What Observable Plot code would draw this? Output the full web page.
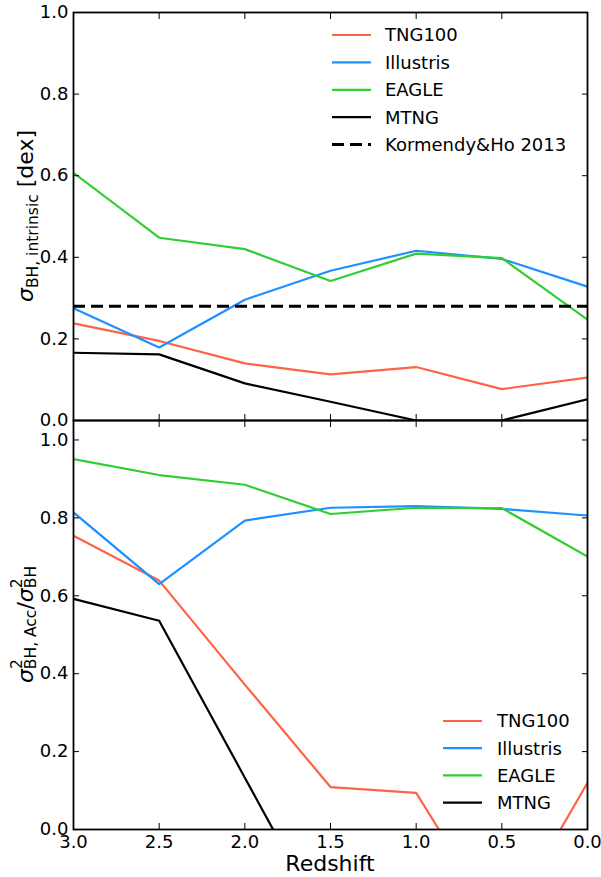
<!DOCTYPE html>
<html><head><meta charset="utf-8">
<script src="https://cdn.jsdelivr.net/npm/d3@7"></script>
<script src="https://cdn.jsdelivr.net/npm/@observablehq/plot@0.6"></script>
<style>
body{margin:0;background:#fff}
#fig{position:relative;width:601px;height:877px;font-family:"DejaVu Sans"}
#fig svg{position:absolute;left:0}
</style>
</head><body><div id="fig"></div>
<script>
// ---- data ----
const redshift = [3.0, 2.5, 2.0, 1.5, 1.0, 0.5, 0.0];
const sims = ["TNG100", "Illustris", "EAGLE", "MTNG"];
const simColors = ["#ff6347", "#1e90ff", "#32cd32", "#000000"];
// top panel: sigma_BH,intrinsic [dex]
const sigmaTNG100    = [0.238, 0.195, 0.140, 0.113, 0.131, 0.077, 0.105];
const sigmaIllustris = [0.275, 0.179, 0.296, 0.367, 0.416, 0.396, 0.328];
const sigmaEAGLE     = [0.607, 0.448, 0.420, 0.342, 0.409, 0.398, 0.247];
const sigmaMTNG      = [0.166, 0.162, 0.091, 0.046, 0.0, 0.0, 0.052];
const kormendyHo2013 = 0.28;
// bottom panel: sigma^2_BH,Acc / sigma^2_BH
const ratioTNG100    = [0.754, 0.639, 0.372, 0.109, 0.094, -0.26, 0.120];
const ratioIllustris = [0.814, 0.630, 0.793, 0.826, 0.830, 0.823, 0.806];
const ratioEAGLE     = [0.951, 0.910, 0.885, 0.810, 0.826, 0.825, 0.701];
const ratioMTNG      = [0.592, 0.536, 0.133, -0.27, null, null, null];
// ticks
const xTicks = [3.0, 2.5, 2.0, 1.5, 1.0, 0.5, 0.0];
const yTicksTop = [0.0, 0.2, 0.4, 0.6, 0.8, 1.0];
const yTicksBottom = [0.0, 0.2, 0.4, 0.6, 0.8, 1.0];

function rows(series) {
  const out = [];
  series.forEach((vals, i) => vals.forEach((v, j) => out.push({sim: sims[i], z: redshift[j], v})));
  return out;
}
const topRows = rows([sigmaTNG100, sigmaIllustris, sigmaEAGLE, sigmaMTNG]);
const botRows = rows([ratioTNG100, ratioIllustris, ratioEAGLE, ratioMTNG]);

const W = 601, ML = 73, MR = 14;
const plotStyle = {fontFamily: "DejaVu Sans", fontSize: "18px", overflow: "visible", background: "transparent", color: "black"};
const colorScale = {domain: sims, range: simColors};

function frameAxes(yTicks, bottomLabels) {
  return [
    Plot.frame({stroke: "black", strokeWidth: 1.8}),
    Plot.axisY(yTicks, {anchor: "left", tickSize: -6, fill: "none", strokeWidth: 1}),
    Plot.axisY(yTicks, {anchor: "left", tickSize: 0, tickPadding: 5, tickFormat: ".1f", label: null, fontSize: 18}),
    Plot.axisY(yTicks, {anchor: "right", tickSize: -6, fill: "none", strokeWidth: 1}),
    Plot.axisX(xTicks, {anchor: "top", tickSize: -6, fill: "none", strokeWidth: 1}),
    Plot.axisX(xTicks, {anchor: "bottom", tickSize: -6, fill: "none", strokeWidth: 1}),
    bottomLabels ? Plot.axisX(xTicks, {anchor: "bottom", tickSize: 0, tickPadding: 6, tickFormat: ".1f", label: null, fontSize: 18}) : null
  ];
}

const topPlot = Plot.plot({
  width: W, height: 420, marginTop: 12, marginBottom: 0, marginLeft: ML, marginRight: MR,
  style: plotStyle,
  x: {domain: [3, 0], label: null, axis: null},
  y: {domain: [0, 1], label: null, axis: null},
  color: colorScale,
  marks: [
    Plot.line(topRows, {x: "z", y: "v", z: "sim", stroke: "sim", strokeWidth: 2.2, clip: true}),
    Plot.ruleY([kormendyHo2013], {stroke: "black", strokeWidth: 3, strokeDasharray: "12,6"}),
    ...frameAxes(yTicksTop, false)
  ]
});

const bottomPlot = Plot.plot({
  width: W, height: 457, marginTop: 0, marginBottom: 48, marginLeft: ML, marginRight: MR,
  style: plotStyle,
  x: {domain: [3, 0], label: null, axis: null},
  y: {domain: [0, 1.05], label: null, axis: null},
  color: colorScale,
  marks: [
    Plot.line(botRows, {x: "z", y: "v", z: "sim", stroke: "sim", strokeWidth: 2.2, clip: true}),
    ...frameAxes(yTicksBottom, true)
  ]
});

topPlot.style.top = "0px";
bottomPlot.style.top = "420px";
const fig = document.getElementById("fig");
fig.appendChild(topPlot);
fig.appendChild(bottomPlot);

// ---- y labels ----
const tsvg = d3.select(topPlot);
const tl = tsvg.append("text")
  .attr("transform", "translate(33,216) rotate(-90)")
  .attr("text-anchor", "middle").attr("fill", "black")
  .style("font-family", "DejaVu Sans").style("font-size", "22px");
tl.append("tspan").style("font-style", "italic").text("σ");
tl.append("tspan").attr("dy", 4.5).style("font-size", "15.5px").text("BH, intrinsic");
tl.append("tspan").attr("dy", -4.5).text(" [dex]");

const bsvg = d3.select(bottomPlot);
const bl = bsvg.append("text")
  .attr("transform", "translate(33,204.5) rotate(-90)")
  .attr("text-anchor", "middle").attr("fill", "black")
  .style("font-family", "DejaVu Sans").style("font-size", "22px");
bl.append("tspan").style("font-style", "italic").text("σ");
bl.append("tspan").attr("dy", -11).style("font-size", "15.5px").text("2");
bl.append("tspan").attr("dx", -9.9).attr("dy", 14).style("font-size", "15.5px").text("BH, Acc");
bl.append("tspan").attr("dy", -3).text("/");
bl.append("tspan").style("font-style", "italic").text("σ");
bl.append("tspan").attr("dy", -11).style("font-size", "15.5px").text("2");
bl.append("tspan").attr("dx", -9.9).attr("dy", 14).style("font-size", "15.5px").text("BH");

// ---- x label ----
bsvg.append("text").attr("x", 330).attr("y", 451).attr("text-anchor", "middle")
  .attr("fill", "black").style("font-family", "DejaVu Sans").style("font-size", "22px").text("Redshift");

// ---- legends ----
function legend(svg, entries, x0, x1, xt, y0, dy) {
  const g = svg.append("g").style("font-family", "DejaVu Sans").style("font-size", "18px");
  entries.forEach((e, i) => {
    const y = y0 + i * dy;
    g.append("line").attr("x1", x0).attr("x2", x1).attr("y1", y).attr("y2", y)
      .attr("stroke", e.color).attr("stroke-width", e.dash ? 3 : 2.2)
      .attr("stroke-dasharray", e.dash ? "12,6" : null);
    g.append("text").attr("x", xt).attr("y", y).attr("dy", "0.36em").attr("fill", "black")
      .attr("text-anchor", "start").text(e.label);
  });
}
const simEntries = sims.map((s, i) => ({label: s, color: simColors[i]}));
legend(tsvg, [...simEntries, {label: "Kormendy&Ho 2013", color: "black", dash: true}], 332, 371, 385, 35, 27.4);
legend(bsvg, simEntries, 443, 482, 497, 301, 27.2);
</script>
</body></html>
